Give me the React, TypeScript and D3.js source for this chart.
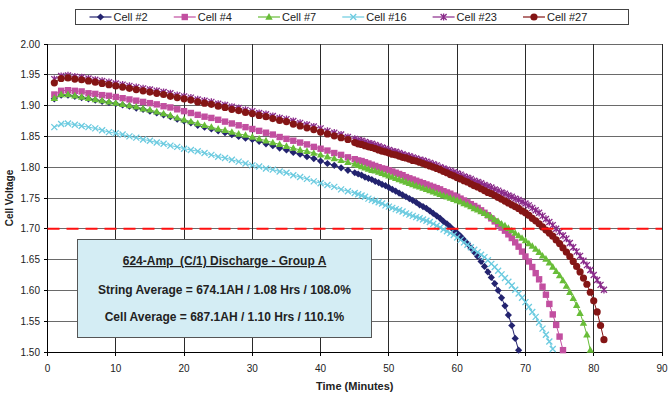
import React, { useEffect, useRef } from "react"
import * as d3 from "d3"

// Discharge readings: one per minute from 1 to 44 min, then every 30 s from 45 min on
const earlyMinutes = d3.range(1, 45)
const lateStartMinute = 45
const lateStepMinutes = 0.5

const cellNames = ["Cell #2", "Cell #4", "Cell #7", "Cell #16", "Cell #23", "Cell #27"]

const cell2Early = [
    1.911, 1.917, 1.917, 1.915, 1.913, 1.911, 1.909, 1.907, 1.905, 1.903,
    1.901, 1.899, 1.896, 1.894, 1.891, 1.888, 1.885, 1.882, 1.878, 1.875,
    1.872, 1.868, 1.865, 1.862, 1.859, 1.856, 1.853, 1.850, 1.847, 1.845,
    1.842, 1.838, 1.835, 1.831, 1.828, 1.824, 1.821, 1.817, 1.814, 1.810,
    1.806, 1.803, 1.799, 1.795,
]
const cell2Late = [
    1.791, 1.789, 1.787, 1.784, 1.782, 1.780, 1.777, 1.775, 1.772, 1.770,
    1.767, 1.764, 1.761, 1.758, 1.755, 1.752, 1.749, 1.746, 1.743, 1.739,
    1.736, 1.733, 1.729, 1.725, 1.721, 1.717, 1.712, 1.708, 1.703, 1.698,
    1.693, 1.688, 1.682, 1.676, 1.669, 1.662, 1.655, 1.647, 1.639, 1.630,
    1.621, 1.611, 1.600, 1.588, 1.575, 1.560, 1.543, 1.522, 1.503,
]

const cell4Early = [
    1.918, 1.924, 1.925, 1.924, 1.923, 1.920, 1.919, 1.917, 1.916, 1.914,
    1.912, 1.910, 1.908, 1.906, 1.904, 1.902, 1.899, 1.897, 1.894, 1.891,
    1.888, 1.885, 1.882, 1.880, 1.877, 1.874, 1.871, 1.868, 1.865, 1.862,
    1.859, 1.856, 1.853, 1.849, 1.846, 1.843, 1.840, 1.837, 1.833, 1.830,
    1.827, 1.823, 1.820, 1.816,
]
const cell4Late = [
    1.813, 1.811, 1.810, 1.808, 1.806, 1.804, 1.802, 1.800, 1.798, 1.797,
    1.795, 1.793, 1.791, 1.789, 1.787, 1.784, 1.782, 1.780, 1.778, 1.776,
    1.774, 1.772, 1.770, 1.768, 1.766, 1.764, 1.761, 1.759, 1.757, 1.754,
    1.752, 1.749, 1.746, 1.743, 1.740, 1.737, 1.734, 1.730, 1.726, 1.722,
    1.717, 1.712, 1.707, 1.702, 1.697, 1.691, 1.685, 1.678, 1.671, 1.663,
    1.655, 1.647, 1.638, 1.628, 1.618, 1.606, 1.593, 1.578, 1.561, 1.544,
    1.525, 1.503,
]

const cell7Early = [
    1.912, 1.918, 1.918, 1.916, 1.914, 1.912, 1.910, 1.908, 1.906, 1.904,
    1.902, 1.900, 1.898, 1.895, 1.893, 1.890, 1.887, 1.884, 1.880, 1.877,
    1.874, 1.871, 1.868, 1.865, 1.862, 1.860, 1.857, 1.854, 1.852, 1.849,
    1.846, 1.843, 1.840, 1.837, 1.834, 1.831, 1.828, 1.826, 1.823, 1.820,
    1.817, 1.814, 1.811, 1.808,
]
const cell7Late = [
    1.805, 1.803, 1.801, 1.799, 1.797, 1.795, 1.794, 1.792, 1.790, 1.788,
    1.786, 1.784, 1.782, 1.780, 1.778, 1.776, 1.774, 1.772, 1.770, 1.768,
    1.766, 1.764, 1.762, 1.760, 1.758, 1.756, 1.754, 1.752, 1.750, 1.748,
    1.746, 1.744, 1.741, 1.739, 1.736, 1.733, 1.731, 1.728, 1.725, 1.722,
    1.719, 1.715, 1.712, 1.708, 1.705, 1.701, 1.697, 1.693, 1.689, 1.685,
    1.681, 1.676, 1.672, 1.667, 1.662, 1.656, 1.651, 1.645, 1.638, 1.631,
    1.624, 1.616, 1.607, 1.597, 1.587, 1.576, 1.563, 1.547, 1.528, 1.503,
]

const cell16Early = [
    1.865, 1.870, 1.871, 1.869, 1.867, 1.865, 1.863, 1.860, 1.857, 1.855,
    1.853, 1.850, 1.848, 1.845, 1.843, 1.840, 1.838, 1.835, 1.833, 1.830,
    1.828, 1.826, 1.823, 1.820, 1.817, 1.815, 1.812, 1.809, 1.806, 1.803,
    1.801, 1.798, 1.796, 1.793, 1.791, 1.787, 1.784, 1.781, 1.777, 1.774,
    1.771, 1.768, 1.764, 1.761,
]
const cell16Late = [
    1.758, 1.756, 1.754, 1.752, 1.749, 1.747, 1.745, 1.743, 1.741, 1.738,
    1.736, 1.734, 1.732, 1.730, 1.728, 1.725, 1.723, 1.721, 1.719, 1.717,
    1.715, 1.713, 1.711, 1.708, 1.705, 1.702, 1.699, 1.696, 1.693, 1.690,
    1.686, 1.682, 1.678, 1.674, 1.670, 1.666, 1.662, 1.658, 1.654, 1.649,
    1.643, 1.638, 1.632, 1.626, 1.620, 1.614, 1.608, 1.601, 1.595, 1.588,
    1.581, 1.573, 1.565, 1.557, 1.548, 1.538, 1.528, 1.517, 1.505,
]

const cell23Early = [
    1.943, 1.948, 1.949, 1.947, 1.946, 1.944, 1.942, 1.940, 1.938, 1.936,
    1.934, 1.932, 1.930, 1.928, 1.926, 1.924, 1.922, 1.920, 1.917, 1.915,
    1.913, 1.910, 1.908, 1.906, 1.903, 1.901, 1.898, 1.896, 1.893, 1.891,
    1.888, 1.886, 1.883, 1.880, 1.878, 1.875, 1.872, 1.869, 1.866, 1.863,
    1.859, 1.856, 1.853, 1.849,
]
const cell23Late = [
    1.846, 1.844, 1.843, 1.841, 1.839, 1.838, 1.836, 1.834, 1.832, 1.830,
    1.828, 1.826, 1.825, 1.823, 1.821, 1.819, 1.818, 1.816, 1.814, 1.812,
    1.811, 1.809, 1.807, 1.805, 1.803, 1.800, 1.798, 1.796, 1.794, 1.792,
    1.790, 1.788, 1.785, 1.783, 1.781, 1.778, 1.776, 1.774, 1.771, 1.769,
    1.767, 1.764, 1.762, 1.759, 1.757, 1.754, 1.752, 1.749, 1.747, 1.744,
    1.741, 1.738, 1.734, 1.730, 1.726, 1.721, 1.716, 1.711, 1.706, 1.700,
    1.695, 1.689, 1.684, 1.677, 1.670, 1.663, 1.656, 1.648, 1.641, 1.633,
    1.625, 1.617, 1.609, 1.601,
]

const cell27Early = [
    1.937, 1.944, 1.945, 1.943, 1.942, 1.940, 1.938, 1.936, 1.934, 1.932,
    1.930, 1.928, 1.926, 1.924, 1.922, 1.920, 1.918, 1.915, 1.913, 1.911,
    1.909, 1.906, 1.904, 1.902, 1.899, 1.897, 1.894, 1.892, 1.889, 1.887,
    1.884, 1.882, 1.879, 1.876, 1.874, 1.870, 1.867, 1.864, 1.861, 1.857,
    1.854, 1.851, 1.848, 1.845,
]
const cell27Late = [
    1.840, 1.838, 1.837, 1.835, 1.833, 1.832, 1.830, 1.828, 1.826, 1.825,
    1.823, 1.821, 1.820, 1.818, 1.816, 1.815, 1.813, 1.811, 1.810, 1.808,
    1.806, 1.804, 1.802, 1.800, 1.798, 1.796, 1.793, 1.791, 1.788, 1.786,
    1.783, 1.781, 1.778, 1.776, 1.773, 1.770, 1.768, 1.765, 1.762, 1.759,
    1.757, 1.754, 1.751, 1.748, 1.745, 1.742, 1.739, 1.736, 1.733, 1.729,
    1.726, 1.722, 1.717, 1.713, 1.708, 1.703, 1.698, 1.693, 1.688, 1.682,
    1.676, 1.669, 1.662, 1.655, 1.647, 1.639, 1.630, 1.620, 1.610, 1.597,
    1.583, 1.565, 1.543, 1.520,
]

const xTicks = [0, 10, 20, 30, 40, 50, 60, 70, 80, 90]
const yTicks = [1.5, 1.55, 1.6, 1.65, 1.7, 1.75, 1.8, 1.85, 1.9, 1.95, 2.0]
const cutoffVoltage = 1.7

const boxTitle = "624-Amp  (C/1) Discharge - Group A"
const boxLines = [
    "String Average = 674.1AH / 1.08 Hrs / 108.0%",
    "Cell Average = 687.1AH / 1.10 Hrs / 110.1%",
]

type Marker = "diamond" | "square" | "triangle" | "x" | "star" | "circle"

interface Series {
    name: string
    early: number[]
    late: number[]
    color: string
    marker: Marker
}

const series: Series[] = [
    { name: cellNames[0], early: cell2Early, late: cell2Late, color: "#23236f", marker: "diamond" },
    { name: cellNames[1], early: cell4Early, late: cell4Late, color: "#c24fa0", marker: "square" },
    { name: cellNames[2], early: cell7Early, late: cell7Late, color: "#68bd38", marker: "triangle" },
    { name: cellNames[3], early: cell16Early, late: cell16Late, color: "#6ccbe0", marker: "x" },
    { name: cellNames[4], early: cell23Early, late: cell23Late, color: "#8a2a8a", marker: "star" },
    { name: cellNames[5], early: cell27Early, late: cell27Late, color: "#841515", marker: "circle" },
]

const toPoints = (s: Series): [number, number][] => [
    ...s.early.map((v, i) => [earlyMinutes[i], v] as [number, number]),
    ...s.late.map((v, i) => [lateStartMinute + i * lateStepMinutes, v] as [number, number]),
]

const FONT = "'Liberation Sans', Arial, Helvetica, sans-serif"

const drawMarker = (g: d3.Selection<SVGGElement, unknown, null, undefined>, kind: Marker, color: string) => {
    if (kind === "diamond") {
        g.append("path").attr("d", "M0,-3.6L3.6,0L0,3.6L-3.6,0Z").attr("fill", color)
    } else if (kind === "square") {
        g.append("rect").attr("x", -3.2).attr("y", -3.2).attr("width", 6.4).attr("height", 6.4).attr("fill", color)
    } else if (kind === "triangle") {
        g.append("path").attr("d", "M0,-3.9L3.7,2.7L-3.7,2.7Z").attr("fill", color)
    } else if (kind === "circle") {
        g.append("circle").attr("r", 3.6).attr("fill", color)
    } else {
        const d = kind === "star" ? "M-3,-3L3,3M-3,3L3,-3M0,-3.6L0,3.6" : "M-3,-3L3,3M-3,3L3,-3"
        g.append("path").attr("d", d).attr("stroke", color).attr("stroke-width", 1.3).attr("fill", "none")
    }
}

export default function App() {
    const ref = useRef<SVGSVGElement>(null)

    useEffect(() => {
        if (!ref.current) return
        const svg = d3.select(ref.current)
        svg.selectAll("*").remove()

        const width = 670
        const height = 395
        const plot = { left: 47.5, right: 662, top: 44, bottom: 352 }

        const x = d3.scaleLinear().domain([0, 90]).range([plot.left, plot.right])
        const y = d3.scaleLinear().domain([1.5, 2.0]).range([plot.bottom, plot.top])

        svg.attr("width", width).attr("height", height)
        svg.append("rect").attr("width", width).attr("height", height).attr("fill", "#fff")

        // Grid
        const grid = svg.append("g").attr("shape-rendering", "crispEdges")
        grid.selectAll(".hgrid")
            .data(yTicks.filter((t) => t > 1.5))
            .join("line")
            .attr("x1", plot.left)
            .attr("x2", plot.right)
            .attr("y1", (d) => y(d))
            .attr("y2", (d) => y(d))
            .attr("stroke", "#6a6a6a")
            .attr("stroke-width", 1)
        grid.selectAll(".vgrid")
            .data(xTicks.filter((t) => t > 0))
            .join("line")
            .attr("x1", (d) => x(d))
            .attr("x2", (d) => x(d))
            .attr("y1", plot.top)
            .attr("y2", plot.bottom)
            .attr("stroke", "#2a2a2a")
            .attr("stroke-width", 1)

        // Axes
        const axisG = svg.append("g").attr("shape-rendering", "crispEdges")
        axisG.append("line").attr("x1", plot.left).attr("x2", plot.left).attr("y1", plot.top).attr("y2", plot.bottom + 4).attr("stroke", "#000")
        axisG.append("line").attr("x1", plot.left - 4).attr("x2", plot.right).attr("y1", plot.bottom).attr("y2", plot.bottom).attr("stroke", "#000")
        axisG.selectAll(".ytick")
            .data(yTicks)
            .join("line")
            .attr("x1", plot.left - 4)
            .attr("x2", plot.left)
            .attr("y1", (d) => y(d))
            .attr("y2", (d) => y(d))
            .attr("stroke", "#000")
        axisG.selectAll(".xtick")
            .data(xTicks)
            .join("line")
            .attr("x1", (d) => x(d))
            .attr("x2", (d) => x(d))
            .attr("y1", plot.bottom)
            .attr("y2", plot.bottom + 4)
            .attr("stroke", "#000")

        svg.append("g")
            .selectAll("text")
            .data(yTicks)
            .join("text")
            .attr("x", 40)
            .attr("y", (d) => y(d))
            .attr("dy", "0.35em")
            .attr("text-anchor", "end")
            .style("font-family", FONT)
            .style("font-size", "10px")
            .attr("fill", "#222")
            .text((d) => d.toFixed(2))

        svg.append("g")
            .selectAll("text")
            .data(xTicks)
            .join("text")
            .attr("x", (d) => x(d))
            .attr("y", 372)
            .attr("text-anchor", "middle")
            .style("font-family", FONT)
            .style("font-size", "10px")
            .attr("fill", "#222")
            .text((d) => String(d))

        svg.append("text")
            .attr("x", (plot.left + plot.right) / 2)
            .attr("y", 390)
            .attr("text-anchor", "middle")
            .style("font-family", FONT)
            .style("font-size", "11px")
            .style("font-weight", "bold")
            .attr("fill", "#222")
            .text("Time (Minutes)")

        svg.append("text")
            .attr("transform", `translate(13,${(plot.top + plot.bottom) / 2}) rotate(-90)`)
            .attr("text-anchor", "middle")
            .style("font-family", FONT)
            .style("font-size", "10px")
            .style("font-weight", "bold")
            .attr("fill", "#222")
            .text("Cell Voltage")

        // Summary box
        const box = svg.append("g")
        box.append("rect")
            .attr("x", 77.5)
            .attr("y", 239.5)
            .attr("width", 294)
            .attr("height", 98)
            .attr("fill", "#d4edf4")
            .attr("stroke", "#555")
            .attr("stroke-width", 1)
        const boxCx = 224.5
        box.append("text")
            .attr("x", boxCx)
            .attr("y", 265)
            .attr("text-anchor", "middle")
            .attr("xml:space", "preserve")
            .style("white-space", "pre")
            .style("font-family", FONT)
            .style("font-size", "12px")
            .style("font-weight", "bold")
            .style("text-decoration", "underline")
            .attr("fill", "#222")
            .text(boxTitle)
        box.selectAll(".line")
            .data(boxLines)
            .join("text")
            .attr("x", boxCx)
            .attr("y", (d, i) => 294 + i * 27)
            .attr("text-anchor", "middle")
            .style("font-family", FONT)
            .style("font-size", "12px")
            .style("font-weight", "bold")
            .attr("fill", "#222")
            .text((d) => d)

        // Series
        const line = d3
            .line<[number, number]>()
            .x((d) => x(d[0]))
            .y((d) => y(d[1]))

        series.forEach((s) => {
            const pts = toPoints(s)
            const g = svg.append("g")
            g.append("path").attr("d", line(pts)).attr("fill", "none").attr("stroke", s.color).attr("stroke-width", 1)
            pts.forEach((p) => {
                const m = g.append("g").attr("transform", `translate(${x(p[0])},${y(p[1])})`)
                drawMarker(m, s.marker, s.color)
            })
        })

        // Cutoff line, drawn over the curves
        svg.append("line")
            .attr("x1", plot.left)
            .attr("x2", plot.right)
            .attr("y1", y(cutoffVoltage))
            .attr("y2", y(cutoffVoltage))
            .attr("stroke", "#ff1010")
            .attr("stroke-width", 2)
            .attr("stroke-dasharray", "12,7")

        // Legend
        const legend = svg.append("g")
        legend.append("rect")
            .attr("x", 75.5)
            .attr("y", 9.5)
            .attr("width", 553)
            .attr("height", 15)
            .attr("fill", "#fff")
            .attr("stroke", "#444")
            .attr("stroke-width", 1)
        let cursor = 89.5
        series.forEach((s) => {
            const item = legend.append("g").attr("transform", `translate(${cursor},17)`)
            item.append("line").attr("x1", 0).attr("x2", 22).attr("stroke", s.color).attr("stroke-width", 1.2)
            const m = item.append("g").attr("transform", "translate(11,0)")
            drawMarker(m, s.marker, s.color)
            const t = item.append("text")
                .attr("x", 24)
                .attr("dy", "0.36em")
                .style("font-family", FONT)
                .style("font-size", "11px")
                .attr("fill", "#222")
                .text(s.name)
            const w = (t.node() as SVGTextElement).getComputedTextLength()
            cursor += 24 + w + 26
        })
    }, [])

    return (
        <div style={{ position: "absolute", left: 0, top: 0 }}>
            <svg ref={ref} style={{ display: "block" }} />
        </div>
    )
}
